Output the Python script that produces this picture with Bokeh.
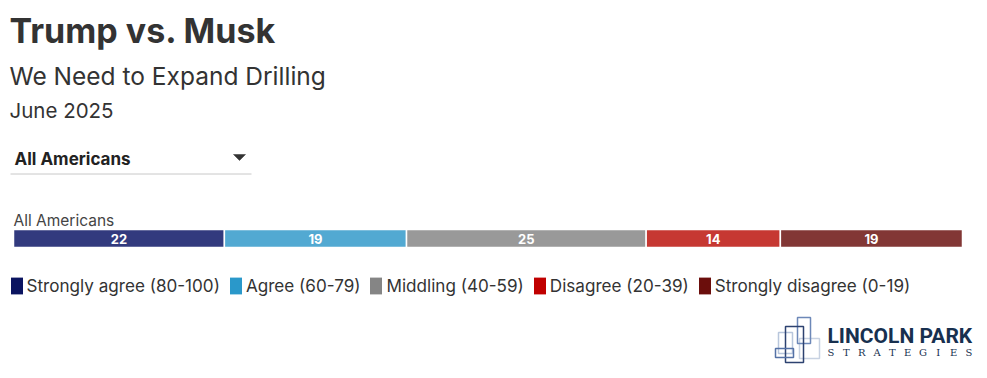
from bokeh.plotting import figure
from bokeh.models import Range1d, Legend, LegendItem, ColumnDataSource
from bokeh.core.properties import value
from bokeh.embed import file_html
from bokeh.resources import INLINE
import numpy as np

# ---- data ----
title = "Trump vs. Musk"
subtitle = "We Need to Expand Drilling"
date_label = "June 2025"
group = "All Americans"
categories = ["Strongly agree (80-100)", "Agree (60-79)", "Middling (40-59)",
              "Disagree (20-39)", "Strongly disagree (0-19)"]
values = [22, 19, 25, 14, 19]
bar_colors = ["#323A7E", "#52A9D2", "#999999", "#C63832", "#823735"]
legend_colors = ["#0B1460", "#2A98CA", "#858585", "#C00000", "#6B0E0C"]
logo_top = "LINCOLN PARK"
logo_bottom = "STRATEGIES"

W, H = 987, 378
FONT = "Inter"
TXT = "#333333"

total = sum(values)
px_per = 949 / total            # bar spans from pixel 13 to 962
x_start = -13 / px_per
x_end = (W - 13) / px_per

p = figure(width=W, height=H, x_range=Range1d(x_start, x_end), y_range=Range1d(H, 0),
           output_backend="svg", toolbar_location=None,
           x_axis_location=None, y_axis_location=None, min_border=0,
           outline_line_color=None)
p.extra_x_ranges = {"px": Range1d(0, W)}
p.grid.visible = False
p.background_fill_color = "white"
p.border_fill_color = "white"

# ---- header texts (y = vertical centre of capitals) ----
def txt(x, y, s, size, bold=False, color=TXT, font=FONT, align="left"):
    p.text(x=[x], y=[y], text=[s], x_range_name="px", text_font=value(font),
           text_font_style="bold" if bold else "normal", text_font_size=size,
           text_color=color, text_baseline="middle", text_align=align)

txt(9, 30, title, "34px", bold=True)
txt(9, 75, subtitle, "24.5px")
txt(9, 109.5, date_label, "20.5px")

# dropdown
txt(14, 158, group, "17px", bold=True, color="#222222")
p.patch(x=[233, 245, 239], y=[154, 154, 160], x_range_name="px",
        fill_color="#333333", line_color="#333333", line_width=0.5)
p.segment(x0=[10], x1=[251], y0=[173.5], y1=[173.5], x_range_name="px",
          line_color="#c8c8c8", line_width=1)

# row label
txt(13, 219.5, group, "15.5px", color="#444444")

# ---- stacked bar ----
rights = np.cumsum(values)
lefts = rights - np.array(values)
src = ColumnDataSource(dict(left=lefts, right=rights, y=[238] * len(values),
                            color=bar_colors, label=[str(v) for v in values],
                            mid=(lefts + rights) / 2))

# legend swatch renderers (hidden underneath the real segments)
items = []
for i, (c, col) in enumerate(zip(categories, legend_colors)):
    r = p.hbar(y=[238], left=[lefts[i]], right=[rights[i]], height=16,
               fill_color=col, line_color=None)
    items.append(LegendItem(label=c, renderers=[r]))

p.hbar(y="y", left="left", right="right", height=18, fill_color="color",
       line_color="white", line_width=1.5, source=src)
p.text(x="mid", y="y", text="label", text_align="center", text_baseline="middle",
       text_color="white", text_font=value(FONT), text_font_style="bold",
       text_font_size="13px", source=src)

# ---- legend ----
legend = Legend(items=items, orientation="horizontal", location=(8.5, H - 295.5),
                glyph_width=15, glyph_height=21, label_standoff=3, spacing=8,
                padding=0, margin=0, border_line_color=None, background_fill_alpha=0,
                label_text_font=FONT, label_text_font_size="17.1px",
                label_text_color=TXT, label_height=21)
p.add_layout(legend, "center")

# ---- logo ----
logo_rects = dict(
    left=[778, 799, 797, 785, 775],
    right=[792, 819, 810, 803, 793],
    top=[332, 338, 317, 326, 348],
    bottom=[353, 358, 343, 362, 357],
    color=["#b8c6dc", "#c8d2e2", "#6d88b8", "#2d4270", "#5572a6"],
)
p.quad(left="left", right="right", top="top", bottom="bottom", source=ColumnDataSource(logo_rects),
       fill_color=None, line_color="color", line_width=1.5, x_range_name="px")
txt(827, 335, logo_top, "21px", bold=True, color="#17304f", font="Roboto")
letters = list(logo_bottom)
p.text(x=list(np.linspace(830.5, 968.5, len(letters))), y=[352] * len(letters), text=letters,
       x_range_name="px", text_font=value("DejaVu Serif"), text_font_size="10px",
       text_color="#17304f", text_align="center", text_baseline="middle")

open("out.html", "w").write(file_html(p, INLINE))
